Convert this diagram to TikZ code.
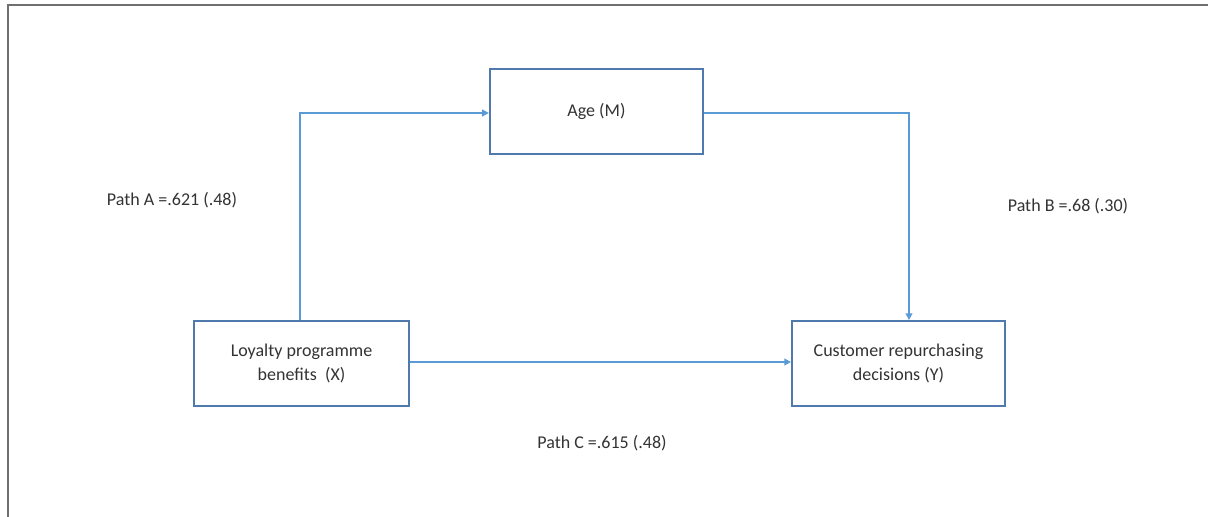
\documentclass[tikz,border=0pt]{standalone}
\usepackage{fontspec}
\setmainfont{Carlito}
\usetikzlibrary{arrows.meta}
\definecolor{boxline}{HTML}{5079AE}
\definecolor{connblue}{HTML}{5B9BD5}
\definecolor{framegray}{HTML}{707070}
\begin{document}
\begin{tikzpicture}[x=0.75pt,y=-0.75pt,
  box/.style={draw=boxline,line width=1.4pt,fill=white,inner sep=0pt,align=center,font=\fontsize{13.5}{18}\selectfont,text=black!80},
  connector/.style={draw=connblue,line width=1.3pt,-{Triangle[length=5pt,width=5pt]}},
  lab/.style={font=\fontsize{13.5}{18}\selectfont,text=black!80}]
\useasboundingbox (0,0) rectangle (1208,517);
\draw[framegray,line width=1.5pt] (8,517) -- (8,5) -- (1208,5);
\node[box,minimum width=160pt,minimum height=63.75pt] (m) at (596.5,111.5) {Age (M)};
\node[box,minimum width=161.25pt,minimum height=63.75pt] (x) at (301.5,363.5) {Loyalty programme\\benefits\ \ (X)};
\node[box,minimum width=159.75pt,minimum height=63.75pt] (y) at (898.5,363.5) {Customer repurchasing\\decisions (Y)};
\coordinate (a1) at (300,113);
\coordinate (b1) at (909,113);
\draw[connector] (x.north -| a1) -- (a1) -- (m.west |- a1);
\draw[connector] (m.east |- b1) -- (b1) -- (b1 |- y.north);
\draw[connector] (x.east |- 0,362) -- (y.west |- 0,362);
\node[lab] (pa) at (172,200) {Path A =.621 (.48)};
\node[lab] (pb) at (1068,206) {Path B =.68 (.30)};
\node[lab] (pc) at (602,443) {Path C =.615 (.48)};
\end{tikzpicture}
\end{document}
